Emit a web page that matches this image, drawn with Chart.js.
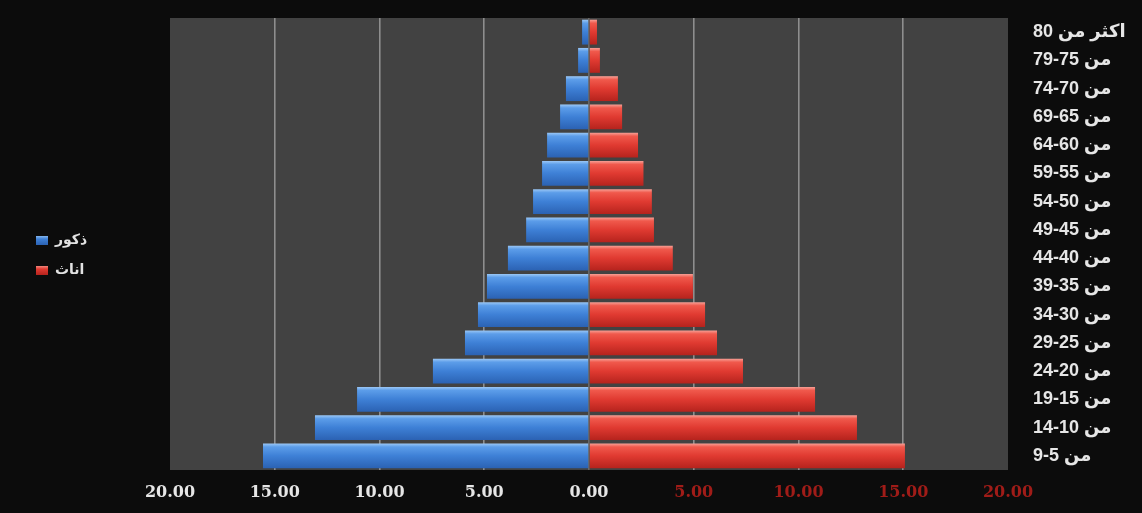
<!DOCTYPE html>
<html lang="ar">
<head>
<meta charset="utf-8">
<title>الهرم السكاني</title>
<script src="https://cdn.jsdelivr.net/npm/chart.js@4/dist/chart.umd.min.js"></script>
<style>
  html, body { margin: 0; padding: 0; background: #0c0c0c; }
  #wrap { width: 1142px; height: 513px; position: relative; }
  canvas { display: block; }
</style>
</head>
<body>
<div id="wrap"><canvas id="pyramid" width="1142" height="513"></canvas></div>
<script>
// Age groups, oldest at the top
const ageGroups = [
  'اكثر من 80', 'من 75-79', 'من 70-74', 'من 65-69', 'من 60-64', 'من 55-59',
  'من 50-54', 'من 45-49', 'من 40-44', 'من 35-39', 'من 30-34', 'من 25-29',
  'من 20-24', 'من 15-19', 'من 10-14', 'من 5-9'
];

// Share of population (%) per age group
const males   = [0.33, 0.52, 1.10, 1.38, 2.00, 2.24, 2.67, 3.00, 3.87, 4.87, 5.30, 5.92, 7.45, 11.07, 13.08, 15.56];
const females = [0.38, 0.52, 1.38, 1.58, 2.34, 2.60, 3.00, 3.10, 4.00, 4.96, 5.54, 6.11, 7.35, 10.79, 12.79, 15.08];

const seriesNames = ['ذكور', 'اناث'];
const axisTicks = [-20, -15, -10, -5, 0, 5, 10, 15, 20];

const LABEL_FONT = '"Liberation Sans", "DejaVu Sans", sans-serif';
const NUM_FONT = '"DejaVu Serif", "Liberation Serif", serif';

// glossy horizontal bar fill: light strip on top, darker toward the bottom
function glossFill(stops) {
  return function (ctx) {
    const chart = ctx.chart;
    const y = chart.scales.y;
    if (!chart.chartArea || !y || ctx.dataIndex === undefined) return stops[2];
    const yc = y.getPixelForValue(ctx.dataIndex);
    const half = (chart.chartArea.bottom - chart.chartArea.top) / ageGroups.length * 0.44;
    const g = chart.ctx.createLinearGradient(0, yc - half, 0, yc + half);
    g.addColorStop(0, stops[0]);
    g.addColorStop(0.14, stops[1]);
    g.addColorStop(0.5, stops[2]);
    g.addColorStop(1, stops[3]);
    return g;
  };
}

const blueStops = ['#9cc8f6', '#5c9de9', '#3e80d6', '#2b62b3'];
const redStops  = ['#f7a197', '#f0594c', '#e03a31', '#b5231d'];

// dark page, grey plotting area
const plotBackground = {
  id: 'plotBackground',
  beforeDraw(chart) {
    const { ctx, chartArea: a } = chart;
    ctx.save();
    ctx.fillStyle = '#0c0c0c';
    ctx.fillRect(0, 0, chart.width, chart.height);
    ctx.fillStyle = '#424242';
    ctx.fillRect(a.left, a.top, a.right - a.left, a.bottom - a.top);
    ctx.restore();
  }
};

// legend on the far left, built from the datasets
const sideLegend = {
  id: 'sideLegend',
  afterDraw(chart) {
    const { ctx } = chart;
    ctx.save();
    ctx.font = 'bold 14px ' + LABEL_FONT;
    ctx.textBaseline = 'middle';
    ctx.textAlign = 'left';
    chart.data.datasets.forEach((ds, i) => {
      const cy = 240 + i * 30;
      const g = ctx.createLinearGradient(0, cy - 5, 0, cy + 5);
      const s = i === 0 ? blueStops : redStops;
      g.addColorStop(0, s[0]);
      g.addColorStop(0.4, s[2]);
      g.addColorStop(1, s[3]);
      ctx.fillStyle = g;
      ctx.fillRect(36, cy - 4, 12, 9);
      ctx.fillStyle = '#e2e2e2';
      ctx.fillText(ds.label, 55, cy);
    });
    ctx.restore();
  }
};

new Chart(document.getElementById('pyramid'), {
  type: 'bar',
  data: {
    labels: ageGroups,
    datasets: [
      { label: seriesNames[0], data: males.map(v => -v), backgroundColor: glossFill(blueStops) },
      { label: seriesNames[1], data: females, backgroundColor: glossFill(redStops) }
    ]
  },
  options: {
    indexAxis: 'y',
    responsive: false,
    animation: false,
    layout: { padding: { left: 170, top: 18, right: 0, bottom: 0 } },
    datasets: {
      bar: { barPercentage: 0.88, categoryPercentage: 1, borderWidth: 0 }
    },
    plugins: {
      legend: { display: false },
      tooltip: { enabled: false }
    },
    scales: {
      x: {
        type: 'linear',
        min: -20,
        max: 20,
        stacked: true,
        afterBuildTicks(scale) { scale.ticks = axisTicks.map(v => ({ value: v })); },
        afterFit(scale) { scale.height = 43; },
        border: { display: false },
        grid: {
          drawTicks: false,
          lineWidth: 1.6,
          color: c => (c.tick && Math.abs(c.tick.value) === 20) ? 'rgba(0,0,0,0)'
                 : (c.tick && c.tick.value === 0 ? 'rgba(150,150,150,0.45)' : '#8e8e8e')
        },
        ticks: {
          padding: 13,
          font: { family: NUM_FONT, size: 16, weight: 'bold' },
          color: c => c.tick.value > 0 ? '#a01c18' : '#e6e6e6',
          callback: v => Math.abs(v).toFixed(2)
        }
      },
      y: {
        position: 'right',
        stacked: true,
        afterFit(scale) {
          scale.width = 134;
          scale.paddingTop = 0;
          scale.paddingBottom = 0;
        },
        border: { display: false },
        grid: { display: false, drawTicks: false },
        ticks: {
          padding: 25,
          font: { family: LABEL_FONT, size: 18, weight: 'bold' },
          color: '#e6e6e6'
        }
      }
    }
  },
  plugins: [plotBackground, sideLegend]
});
</script>
</body>
</html>
